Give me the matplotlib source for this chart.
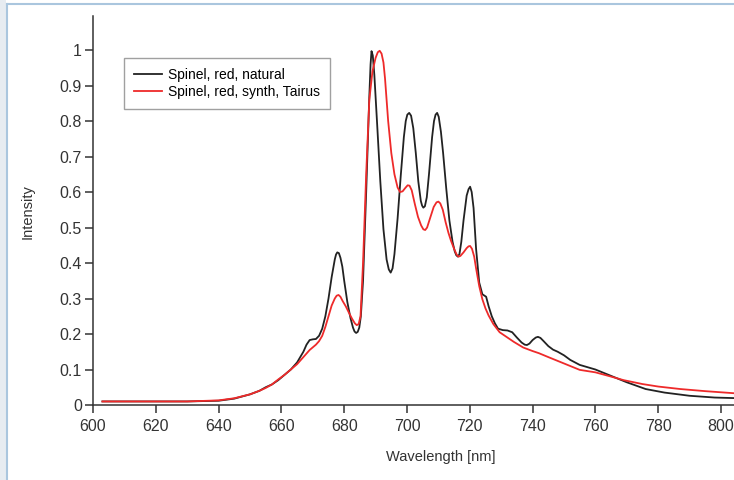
from matplotlib import pyplot as plt
from matplotlib.lines import Line2D
from matplotlib.patches import Rectangle

plt.rcParams['font.family'] = ['Liberation Sans', 'DejaVu Sans']

# Emission spectra, natural red spinel
natural_wl = [603, 610, 620, 630, 640, 645, 650, 653, 655, 657, 659, 661, 663, 665, 667,
              668, 669, 670, 671, 672, 673, 674, 675, 676, 677, 677.4, 677.8, 678.3, 678.8,
              679.4, 680, 681, 682, 682.8, 683.3, 683.8, 684.3, 684.8, 685.3, 686, 687,
              688, 688.4, 688.7, 689.1, 689.6, 690.5, 691.5, 692.5, 693.5, 694.2, 694.8,
              695.4, 696, 697, 698, 699, 699.6, 700.1, 700.7, 701.3, 702, 702.8, 703.6,
              704.4, 704.8, 705.2, 705.7, 706.3, 707, 708, 708.6, 709.1, 709.6, 710.1,
              710.8, 711.5, 712.5, 713.5, 714.5, 715.2, 715.7, 716.2, 716.7, 717.3, 718,
              719, 719.6, 720.1, 720.6, 721.2, 722, 723, 724, 725.2, 726, 727, 728, 729,
              730.5, 732, 733.5, 735, 736.5, 737.5, 738.2, 739, 740, 741, 741.7, 742.5, 743.5,
              745, 746.5, 748, 750, 752, 755, 760, 765, 770, 776, 782, 790, 798, 806]
natural_int = [0.010, 0.010, 0.010, 0.010, 0.012, 0.018, 0.030, 0.040, 0.050, 0.058, 0.070,
               0.085, 0.100, 0.120, 0.150, 0.170, 0.183, 0.185, 0.186, 0.195, 0.215, 0.250,
               0.300, 0.360, 0.410, 0.424, 0.430, 0.428, 0.415, 0.390, 0.350, 0.290, 0.245,
               0.218, 0.207, 0.203, 0.206, 0.218, 0.250, 0.350, 0.600, 0.870, 0.960, 0.997,
               0.985, 0.930, 0.790, 0.630, 0.495, 0.410, 0.382, 0.373, 0.385, 0.425, 0.525,
               0.645, 0.755, 0.800, 0.818, 0.823, 0.815, 0.780, 0.710, 0.630, 0.575, 0.562,
               0.556, 0.560, 0.585, 0.650, 0.755, 0.800, 0.818, 0.823, 0.812, 0.770, 0.710,
               0.610, 0.520, 0.460, 0.433, 0.422, 0.418, 0.425, 0.460, 0.520, 0.590, 0.608,
               0.615, 0.600, 0.555, 0.440, 0.345, 0.312, 0.305, 0.278, 0.250, 0.230, 0.215,
               0.211, 0.210, 0.205, 0.190, 0.176, 0.170, 0.169, 0.173, 0.183, 0.190, 0.192,
               0.189, 0.180, 0.166, 0.156, 0.150, 0.140, 0.127, 0.113, 0.100, 0.082, 0.064,
               0.045, 0.035, 0.026, 0.021, 0.019]

# synthetic red spinel (Tairus)
synth_wl = [603, 610, 620, 630, 640, 645, 650, 653, 655, 657, 659, 661, 663, 665, 667, 669,
            671, 672, 673, 674, 675, 676, 677, 677.6, 678.2, 678.8, 679.5, 680.5, 681.5,
            682.5, 683.4, 684, 684.6, 685.2, 686, 687, 688, 689, 690, 690.7, 691.3, 691.9,
            692.5, 693, 694, 695, 696, 697, 697.8, 698.6, 699.5, 700.2, 700.8, 701.5,
            702.5, 703.5, 704.5, 705.2, 705.8, 706.4, 707.3, 708.5, 709.4, 710, 710.6, 711.4,
            712.3, 713.2, 714, 715, 715.8, 716.4, 717, 718, 719, 719.6, 720.1, 720.7,
            721.4, 722, 723, 724, 725, 726, 727.5, 729.5, 731.5, 734, 737, 740, 742, 745,
            750, 755, 760, 765, 769, 775, 780, 787, 795, 806]
synth_int = [0.010, 0.010, 0.010, 0.010, 0.013, 0.019, 0.030, 0.040, 0.048, 0.058, 0.072,
             0.085, 0.100, 0.115, 0.135, 0.155, 0.170, 0.180, 0.195, 0.220, 0.250, 0.280,
             0.300, 0.308, 0.310, 0.305, 0.293, 0.278, 0.260, 0.243, 0.230, 0.225, 0.228,
             0.250, 0.400, 0.650, 0.860, 0.940, 0.978, 0.994, 0.998, 0.990, 0.965, 0.920,
             0.800, 0.710, 0.650, 0.613, 0.600, 0.602, 0.612, 0.619, 0.618, 0.605, 0.566,
             0.530, 0.506, 0.495, 0.493, 0.500, 0.525, 0.558, 0.571, 0.573, 0.568, 0.550,
             0.515, 0.485, 0.463, 0.440, 0.424, 0.418, 0.420, 0.430, 0.442, 0.447, 0.448,
             0.440, 0.418, 0.385, 0.335, 0.298, 0.272, 0.252, 0.228, 0.205, 0.193, 0.178,
             0.162, 0.152, 0.146, 0.135, 0.117, 0.099, 0.092, 0.080, 0.070, 0.059, 0.052,
             0.045, 0.039, 0.032]

x_ticks = [600, 620, 640, 660, 680, 700, 720, 740, 760, 780, 800]
y_ticks = [0, 0.1, 0.2, 0.3, 0.4, 0.5, 0.6, 0.7, 0.8, 0.9, 1]
y_tick_labels = ['0', '0.1', '0.2', '0.3', '0.4', '0.5', '0.6', '0.7', '0.8', '0.9', '1']


def main():
    fig = plt.figure(figsize=(7.34, 4.8), dpi=100)
    W, H = 734, 480

    # window frame along the left and top edge
    fig.patches.append(Rectangle((0, 0), 6 / W, 1, transform=fig.transFigure,
                                 facecolor='#e7ecf1', edgecolor='none'))
    fig.lines.append(Line2D([7 / W, 7 / W], [0, 1 - 4 / H], transform=fig.transFigure,
                            color='#aac6de', lw=1.5))
    fig.lines.append(Line2D([7 / W, 1], [1 - 4 / H, 1 - 4 / H], transform=fig.transFigure,
                            color='#aac6de', lw=1.5))

    ax = fig.add_axes([93 / W, 75 / H, 206 * 3.14 / W, 389 / H])
    ax.plot(natural_wl, natural_int, color='#222222', lw=1.3, label='Spinel, red, natural')
    ax.plot(synth_wl, synth_int, color='#ee2a2a', lw=1.3, label='Spinel, red, synth, Tairus')

    ax.set_xlim(600, 806)
    ax.set_ylim(0, 1.096)
    ax.set_xticks(x_ticks)
    ax.set_yticks(y_ticks)
    ax.set_yticklabels(y_tick_labels)

    for side in ['top', 'right']:
        ax.spines[side].set_visible(False)
    for side in ['left', 'bottom']:
        ax.spines[side].set_color('#333333')
        ax.spines[side].set_linewidth(1.1)
    ax.tick_params(direction='out', length=6, width=1.1, color='#333333',
                   labelsize=11.5, labelcolor='#333333')
    ax.tick_params(axis='x', pad=4)
    ax.tick_params(axis='y', pad=2)

    ax.set_xlabel('Wavelength [nm]', fontsize=10.5, color='#333333', va='center')
    ax.xaxis.set_label_coords(441 / W, 1 - 457 / H, transform=fig.transFigure)
    ax.set_ylabel('Intensity', fontsize=10.5, color='#333333', va='center')
    ax.yaxis.set_label_coords(28 / W, 1 - 212 / H, transform=fig.transFigure)

    leg = ax.legend(loc='upper left', bbox_to_anchor=(124 / W, 1 - 58 / H),
                    bbox_transform=fig.transFigure, borderaxespad=0, fancybox=False,
                    fontsize=10, handlelength=2.0, labelspacing=0.25, borderpad=0.7,
                    handletextpad=0.5, frameon=True)
    leg.get_frame().set_edgecolor('#888888')
    leg.get_frame().set_linewidth(1.0)

    fig.savefig('out.png', dpi=100)
    plt.close(fig)


if __name__ == '__main__':
    main()
